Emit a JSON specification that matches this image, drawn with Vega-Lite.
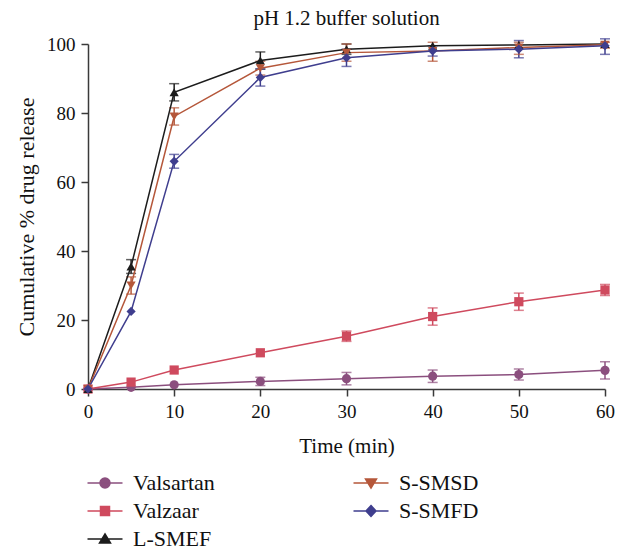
{
  "$schema": "https://vega.github.io/schema/vega-lite/v6.json",
  "autosize": "none",
  "width": 517,
  "height": 345,
  "padding": {"left": 88, "top": 44, "right": 12, "bottom": 159},
  "background": "white",
  "title": {"text": "pH 1.2 buffer solution", "font": "Liberation Serif", "fontSize": 21, "fontWeight": "normal", "color": "#111", "offset": 6},
  "config": {
    "view": {"stroke": null},
    "axis": {"labelFont": "Liberation Serif", "titleFont": "Liberation Serif", "labelColor": "#111", "titleColor": "#111", "domainColor": "#3a3a3a", "tickColor": "#3a3a3a", "domainWidth": 1.5, "tickWidth": 1.5, "tickSize": 7, "grid": false, "titleFontWeight": "normal", "labelFlush": false},
    "legend": {"labelFont": "Liberation Serif"}
  },
  "data": {"values": [
    {"s": "Valsartan", "t": 0, "y": 0, "lo": null, "hi": null},
    {"s": "Valsartan", "t": 5, "y": 0.5, "lo": null, "hi": null},
    {"s": "Valsartan", "t": 10, "y": 1.2, "lo": null, "hi": null},
    {"s": "Valsartan", "t": 20, "y": 2.2, "lo": 1.0, "hi": 3.4},
    {"s": "Valsartan", "t": 30, "y": 3.0, "lo": 1.2, "hi": 4.8},
    {"s": "Valsartan", "t": 40, "y": 3.7, "lo": 1.9, "hi": 5.5},
    {"s": "Valsartan", "t": 50, "y": 4.2, "lo": 2.6, "hi": 5.8},
    {"s": "Valsartan", "t": 60, "y": 5.4, "lo": 2.9, "hi": 7.9},
    {"s": "Valzaar", "t": 0, "y": 0, "lo": null, "hi": null},
    {"s": "Valzaar", "t": 5, "y": 2.0, "lo": null, "hi": null},
    {"s": "Valzaar", "t": 10, "y": 5.5, "lo": null, "hi": null},
    {"s": "Valzaar", "t": 20, "y": 10.5, "lo": null, "hi": null},
    {"s": "Valzaar", "t": 30, "y": 15.3, "lo": 13.8, "hi": 16.8},
    {"s": "Valzaar", "t": 40, "y": 21.0, "lo": 18.5, "hi": 23.5},
    {"s": "Valzaar", "t": 50, "y": 25.3, "lo": 22.8, "hi": 27.8},
    {"s": "Valzaar", "t": 60, "y": 28.7, "lo": 27.1, "hi": 30.3},
    {"s": "L-SMEF", "t": 0, "y": 0, "lo": null, "hi": null},
    {"s": "L-SMEF", "t": 5, "y": 35.5, "lo": 33.5, "hi": 37.5},
    {"s": "L-SMEF", "t": 10, "y": 86.0, "lo": 83.5, "hi": 88.5},
    {"s": "L-SMEF", "t": 20, "y": 95.2, "lo": 92.7, "hi": 97.7},
    {"s": "L-SMEF", "t": 30, "y": 98.5, "lo": 97.0, "hi": 100.0},
    {"s": "L-SMEF", "t": 40, "y": 99.5, "lo": null, "hi": null},
    {"s": "L-SMEF", "t": 50, "y": 99.7, "lo": null, "hi": null},
    {"s": "L-SMEF", "t": 60, "y": 100.0, "lo": null, "hi": null},
    {"s": "S-SMSD", "t": 0, "y": 0, "lo": null, "hi": null},
    {"s": "S-SMSD", "t": 5, "y": 30.0, "lo": 27.5, "hi": 32.5},
    {"s": "S-SMSD", "t": 10, "y": 79.0, "lo": 76.5, "hi": 81.5},
    {"s": "S-SMSD", "t": 20, "y": 93.0, "lo": 91.0, "hi": 95.0},
    {"s": "S-SMSD", "t": 30, "y": 97.5, "lo": 95.0, "hi": 100.0},
    {"s": "S-SMSD", "t": 40, "y": 98.0, "lo": 95.0, "hi": 100.5},
    {"s": "S-SMSD", "t": 50, "y": 99.0, "lo": 97.0, "hi": 100.5},
    {"s": "S-SMSD", "t": 60, "y": 99.8, "lo": 98.8, "hi": 100.5},
    {"s": "S-SMFD", "t": 0, "y": 0, "lo": null, "hi": null},
    {"s": "S-SMFD", "t": 5, "y": 22.5, "lo": null, "hi": null},
    {"s": "S-SMFD", "t": 10, "y": 66.0, "lo": 64.0, "hi": 68.0},
    {"s": "S-SMFD", "t": 20, "y": 90.3, "lo": 87.8, "hi": 92.8},
    {"s": "S-SMFD", "t": 30, "y": 96.0, "lo": 93.5, "hi": 98.5},
    {"s": "S-SMFD", "t": 40, "y": 98.0, "lo": 96.5, "hi": 99.5},
    {"s": "S-SMFD", "t": 50, "y": 98.5, "lo": 96.0, "hi": 101.0},
    {"s": "S-SMFD", "t": 60, "y": 99.5, "lo": 97.0, "hi": 101.5}
  ]},
  "resolve": {"legend": {"color": "independent", "shape": "independent"}},
  "encoding": {
    "x": {"field": "t", "type": "quantitative", "scale": {"domain": [0, 60], "padding": 0, "nice": false},
      "axis": {"title": "Time (min)", "values": [0, 10, 20, 30, 40, 50, 60], "labelFontSize": 19, "titleFontSize": 21, "titlePadding": 14, "labelPadding": 6}}
  },
  "layer": [
    {"mark": {"type": "rule", "strokeWidth": 1.5},
     "encoding": {"y": {"field": "lo", "type": "quantitative"}, "y2": {"field": "hi"},
       "color": {"field": "s", "type": "nominal", "legend": null,
         "scale": {"domain": ["Valsartan", "Valzaar", "L-SMEF", "S-SMSD", "S-SMFD"], "range": ["#8b4f7e", "#cf4a5e", "#1c1c1c", "#b5573a", "#3f3e8e"]}}}},
    {"mark": {"type": "tick", "orient": "horizontal", "size": 10, "thickness": 1.5},
     "encoding": {"y": {"field": "lo", "type": "quantitative"},
       "color": {"field": "s", "type": "nominal", "legend": null}}},
    {"mark": {"type": "tick", "orient": "horizontal", "size": 10, "thickness": 1.5},
     "encoding": {"y": {"field": "hi", "type": "quantitative"},
       "color": {"field": "s", "type": "nominal", "legend": null}}},
    {"mark": {"type": "line", "strokeWidth": 1.5, "clip": false},
     "encoding": {"y": {"field": "y", "type": "quantitative", "scale": {"domain": [0, 100], "padding": 0, "nice": false},
       "axis": {"title": "Cumulative % drug release", "values": [0, 20, 40, 60, 80, 100], "labelFontSize": 19, "titleFontSize": 22, "titlePadding": 8, "labelPadding": 6}},
       "color": {"field": "s", "type": "nominal",
         "legend": {
           "title": null, "orient": "none", "legendX": 6, "legendY": 428, "columns": 2, "direction": "vertical",
           "columnPadding": 135, "rowPadding": 6, "labelFontSize": 22, "labelColor": "#111", "labelOffset": 17,
           "symbolSize": 100, "symbolStrokeWidth": 1.5, "symbolOpacity": 1,
           "symbolType": {"expr": "datum.value === 'Valsartan' ? 'M-3.5,0L3.5,0M-1,0A1,1,0,1,0,1,0A1,1,0,1,0,-1,0Z' : datum.value === 'Valzaar' ? 'M-3.5,0L3.5,0M-0.9,-0.9L0.9,-0.9L0.9,0.9L-0.9,0.9Z' : datum.value === 'L-SMEF' ? 'M-3.5,0L3.5,0M0,-1.0L1.1,0.8L-1.1,0.8Z' : datum.value === 'S-SMSD' ? 'M-3.5,0L3.5,0M0,1.0L1.1,-0.8L-1.1,-0.8Z' : 'M-3.5,0L3.5,0M0,-1.1L1.0,0L0,1.1L-1.0,0Z'"},
           "symbolFillColor": {"expr": "scale('color', datum.value)"},
           "symbolStrokeColor": {"expr": "scale('color', datum.value)"}
         }}}},
    {"mark": {"type": "point", "filled": true, "opacity": 1, "size": 85, "clip": false},
     "encoding": {"y": {"field": "y", "type": "quantitative"},
       "color": {"field": "s", "type": "nominal", "legend": null},
       "shape": {"field": "s", "type": "nominal", "legend": null,
         "scale": {"domain": ["Valsartan", "Valzaar", "L-SMEF", "S-SMSD", "S-SMFD"], "range": ["circle", "square", "triangle-up", "triangle-down", "diamond"]}}}}
  ]
}
